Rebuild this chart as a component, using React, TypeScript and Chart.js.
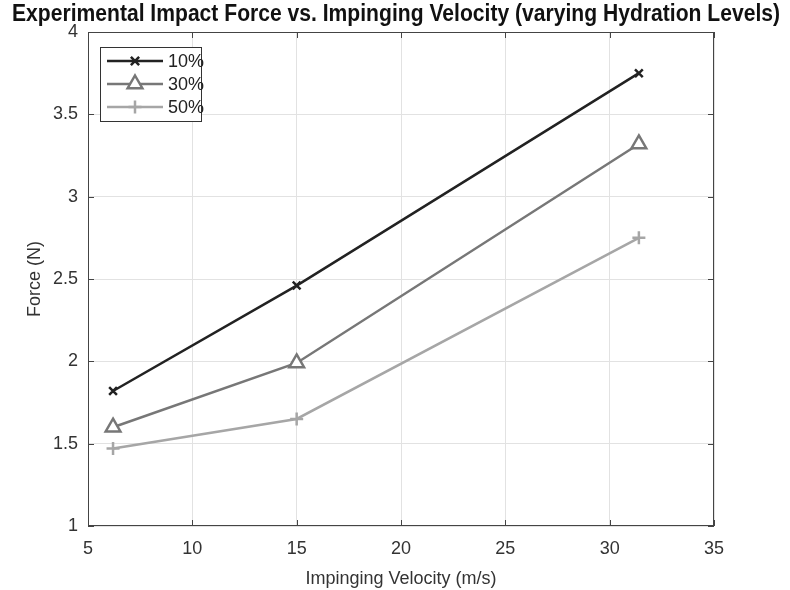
import React, { useEffect, useRef } from "react";
import { Chart, registerables } from "chart.js";

Chart.register(...registerables);

const velocities = [6.2, 15, 31.4];
const force10 = [1.82, 2.46, 3.75];
const force30 = [1.6, 1.99, 3.32];
const force50 = [1.47, 1.65, 2.75];
const seriesLabels = ["10%", "30%", "50%"];
const seriesColors = ["#222222", "#777777", "#a6a6a6"];
const seriesMarkers = ["crossRot", "triangle", "cross"];
const markerSizes = [5.5, 8.5, 6.5];
const titleText = "Experimental Impact Force vs. Impinging Velocity (varying Hydration Levels)";
const xTitle = "Impinging Velocity (m/s)";
const yTitle = "Force (N)";

const FONT = "'Liberation Sans', Arial, Helvetica, sans-serif";

function drawMarker(ctx: CanvasRenderingContext2D, style: string, r: number, x: number, y: number, color: string) {
  ctx.save();
  ctx.strokeStyle = color;
  ctx.lineWidth = 2.5;
  ctx.beginPath();
  if (style === "crossRot") {
    const d = r * 0.75;
    ctx.moveTo(x - d, y - d);
    ctx.lineTo(x + d, y + d);
    ctx.moveTo(x + d, y - d);
    ctx.lineTo(x - d, y + d);
  } else if (style === "cross") {
    ctx.moveTo(x - r, y);
    ctx.lineTo(x + r, y);
    ctx.moveTo(x, y - r);
    ctx.lineTo(x, y + r);
  } else if (style === "triangle") {
    ctx.moveTo(x, y - r);
    ctx.lineTo(x + r * 0.866, y + r * 0.5);
    ctx.lineTo(x - r * 0.866, y + r * 0.5);
    ctx.closePath();
    ctx.fillStyle = "#ffffff";
    ctx.fill();
  }
  ctx.stroke();
  ctx.restore();
}

const frameAndLegend = {
  id: "frameAndLegend",
  afterDatasetsDraw(chart: any) {
    const { ctx, chartArea, scales } = chart;
    const { left, right, top, bottom } = chartArea;
    ctx.save();
    // title
    ctx.fillStyle = "#111111";
    ctx.font = `bold 23px ${FONT}`;
    ctx.textAlign = "center";
    ctx.textBaseline = "middle";
    ctx.fillText(titleText, 396, 15, 768);
    ctx.textAlign = "left";

    ctx.strokeStyle = "#444444";
    ctx.lineWidth = 1;
    ctx.strokeRect(left + 0.5, top + 0.5, right - left - 1, bottom - top - 1);
    const tl = 6;
    ctx.beginPath();
    scales.x.ticks.forEach((t: any) => {
      const px = Math.round(scales.x.getPixelForValue(t.value)) + 0.5;
      ctx.moveTo(px, bottom);
      ctx.lineTo(px, bottom - tl);
      ctx.moveTo(px, top);
      ctx.lineTo(px, top + tl);
    });
    scales.y.ticks.forEach((t: any) => {
      const py = Math.round(scales.y.getPixelForValue(t.value)) + 0.5;
      ctx.moveTo(left, py);
      ctx.lineTo(left + tl, py);
      ctx.moveTo(right, py);
      ctx.lineTo(right - tl, py);
    });
    ctx.stroke();

    const bx = left + 12;
    const by = top + 15;
    const bw = 101;
    const bh = 74;
    ctx.fillStyle = "#ffffff";
    ctx.fillRect(bx, by, bw, bh);
    ctx.strokeStyle = "#333333";
    ctx.lineWidth = 1;
    ctx.strokeRect(bx + 0.5, by + 0.5, bw, bh);
    ctx.font = `18px ${FONT}`;
    ctx.textBaseline = "middle";
    chart.data.datasets.forEach((ds: any, i: number) => {
      const ry = by + 14 + i * 23;
      ctx.strokeStyle = ds.borderColor;
      ctx.lineWidth = 2.5;
      ctx.beginPath();
      ctx.moveTo(bx + 7, ry);
      ctx.lineTo(bx + 63, ry);
      ctx.stroke();
      drawMarker(ctx, ds.pointStyle, ds.pointRadius, bx + 35, ry, ds.borderColor);
      ctx.fillStyle = "#222222";
      ctx.fillText(ds.label, bx + 68, ry + 1);
    });
    ctx.restore();
  },
};

export default function App() {
  const ref = useRef<HTMLCanvasElement>(null);
  useEffect(() => {
    document.body.style.margin = "0";
    const seriesData = [force10, force30, force50];
    const chart = new Chart(ref.current!, {
      type: "line",
      data: {
        datasets: seriesData.map((arr, i) => ({
          label: seriesLabels[i],
          data: arr.map((v, j) => ({ x: velocities[j], y: v })),
          borderColor: seriesColors[i],
          backgroundColor: "#ffffff",
          borderWidth: 2.5,
          pointStyle: seriesMarkers[i] as any,
          pointRadius: markerSizes[i],
          pointBorderWidth: 2.5,
          pointBorderColor: seriesColors[i],
          pointBackgroundColor: "#ffffff",
          tension: 0,
          fill: false,
        })),
      },
      options: {
        animation: false,
        responsive: false,
        maintainAspectRatio: false,
        layout: { padding: { left: 24, right: 76, top: 32, bottom: 0 } },
        plugins: {
          legend: { display: false },
          tooltip: { enabled: false },
          title: { display: false },
        },
        scales: {
          x: {
            type: "linear",
            min: 5,
            max: 35,
            ticks: { stepSize: 5, color: "#333333", font: { family: FONT, size: 18 }, padding: 12, maxRotation: 0 },
            grid: { color: "#e2e2e2", drawTicks: false, lineWidth: 1 },
            border: { display: false },
            title: { display: true, text: xTitle, color: "#333333", font: { family: FONT, size: 18 }, padding: { top: 6, bottom: 0 } },
            afterFit: (s: any) => { s.height = 64; },
          },
          y: {
            type: "linear",
            min: 1,
            max: 4,
            ticks: {
              stepSize: 0.5,
              color: "#333333",
              font: { family: FONT, size: 18 },
              padding: 10,
              callback: (v: any) => String(Number(v)),
            },
            grid: { color: "#e2e2e2", drawTicks: false, lineWidth: 1 },
            border: { display: false },
            title: { display: true, text: yTitle, color: "#333333", font: { family: FONT, size: 18 }, padding: { top: 0, bottom: 0 } },
            afterFit: (s: any) => { s.width = 64; },
          },
        },
      },
      plugins: [frameAndLegend],
    });
    return () => chart.destroy();
  }, []);
  return (
    <div style={{ width: 790, height: 590 }}>
      <canvas ref={ref} width={790} height={590} style={{ width: 790, height: 590, display: "block" }} />
    </div>
  );
}
